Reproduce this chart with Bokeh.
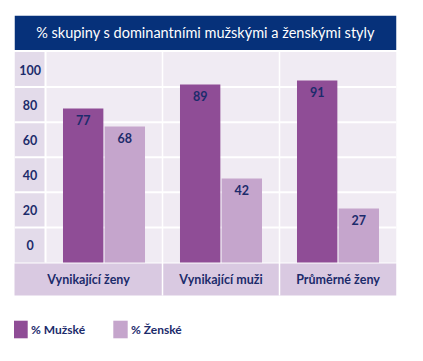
import numpy as np
from bokeh.plotting import figure
from bokeh.models import ColumnDataSource, Range1d, Legend, LegendItem
from bokeh.core.properties import value
from bokeh.embed import file_html
from bokeh.resources import INLINE

# ---- data ----
title_text = "% skupiny s dominantními mužskými a ženskými styly"
categories = ["Vynikající ženy", "Vynikající muži", "Průměrné ženy"]
muzske = [77, 89, 91]
zenske = [68, 42, 27]
y_tick_labels = ["0", "20", "40", "60", "80", "100"]
series_names = ["% Mužské", "% Ženské"]

# ---- style ----
NAVY = "#06317a"
TEXT = "#1c2b6b"
DARK = "#8f4d96"
LIGHT = "#c5a5cc"
PLOT_BG = "#f0ebf3"
COL_BG = "#e3dbea"
BAND_BG = "#d9c9e1"
FONT = "Lato"

# layout in data units
X_LEFT, X_RIGHT = -0.765, 2.5
PANEL_LEFT = -0.5
Y_TOP, Y_BOTTOM = 123.5, -41.5
PLOT_TOP = 105.25
TITLE_BOTTOM = 106.25
BAND_TOP, BAND_BOTTOM = -0.5, -16.5
n_rows = len(y_tick_labels)
row_h = PLOT_TOP / n_rows
bar_w = 0.345
bar_off = 0.178

p = figure(width=415, height=353, output_backend="svg", toolbar_location=None,
           x_range=Range1d(X_LEFT, X_RIGHT), y_range=Range1d(Y_BOTTOM, Y_TOP),
           x_axis_location=None, y_axis_location=None,
           min_border_left=14, min_border_right=19, min_border_top=15, min_border_bottom=8)
p.grid.visible = False
p.outline_line_color = None
p.background_fill_color = "white"
p.border_fill_color = "white"

# title band
p.quad(left=[X_LEFT], right=[X_RIGHT], bottom=[TITLE_BOTTOM], top=[Y_TOP],
       fill_color=NAVY, line_color=None)
p.text(x=[(X_LEFT + X_RIGHT) / 2], y=[(TITLE_BOTTOM + Y_TOP) / 2], text=[title_text],
       text_align="center", text_baseline="middle", text_color="white",
       text_font=value(FONT), text_font_size="14.5px")

# backgrounds
p.quad(left=[X_LEFT], right=[PANEL_LEFT], bottom=[0], top=[PLOT_TOP],
       fill_color=COL_BG, line_color=None)
p.quad(left=[PANEL_LEFT], right=[X_RIGHT], bottom=[0], top=[PLOT_TOP],
       fill_color=PLOT_BG, line_color=None)
p.quad(left=[X_LEFT - 0.01], right=[X_RIGHT], bottom=[BAND_BOTTOM], top=[BAND_TOP],
       fill_color=BAND_BG, line_color=None)

# white grid lines
row_bounds = [row_h * k for k in range(1, n_rows)]
p.segment(x0=[X_LEFT] * len(row_bounds), x1=[X_RIGHT] * len(row_bounds),
          y0=row_bounds, y1=row_bounds, line_color="white", line_width=2)
p.segment(x0=[PANEL_LEFT], x1=[PANEL_LEFT], y0=[0], y1=[PLOT_TOP],
          line_color="white", line_width=2)
dividers = [i + 0.5 for i in range(len(categories) - 1)]
p.segment(x0=dividers, x1=dividers, y0=[BAND_BOTTOM] * len(dividers),
          y1=[PLOT_TOP] * len(dividers), line_color="white", line_width=1.5)

# bars
idx = np.arange(len(categories))
src = ColumnDataSource(dict(xm=idx - bar_off, xz=idx + bar_off, m=muzske, z=zenske,
                            ml=[str(v) for v in muzske], zl=[str(v) for v in zenske]))
r1 = p.vbar(x="xm", top="m", width=bar_w, bottom=0, source=src,
            fill_color=DARK, line_color=None)
r2 = p.vbar(x="xz", top="z", width=bar_w, bottom=0, source=src,
            fill_color=LIGHT, line_color=None)
for xf, yf, lf in (("xm", "m", "ml"), ("xz", "z", "zl")):
    p.text(x=xf, y=yf, text=lf, source=src, y_offset=6,
           text_align="center", text_baseline="top", text_color=TEXT,
           text_font=value(FONT), text_font_style="bold", text_font_size="12.5px")

# y tick labels (row centres)
p.text(x=[(X_LEFT + PANEL_LEFT) / 2] * n_rows,
       y=[row_h * (k + 0.5) for k in range(n_rows)], text=y_tick_labels,
       text_align="center", text_baseline="middle", text_color=TEXT,
       text_font=value(FONT), text_font_style="bold", text_font_size="12.5px")

# category labels (the first band cell also spans the label column)
cell_left = [X_LEFT] + [i - 0.5 for i in idx[1:]]
cell_right = [i + 0.5 for i in idx]
p.text(x=[(a + b) / 2 for a, b in zip(cell_left, cell_right)],
       y=[(BAND_TOP + BAND_BOTTOM) / 2] * len(categories), text=categories,
       text_align="center", text_baseline="middle", text_color=TEXT,
       text_font=value(FONT), text_font_style="bold", text_font_size="12.5px")

# legend
legend = Legend(items=[LegendItem(label=series_names[0], renderers=[r1]),
                       LegendItem(label=series_names[1], renderers=[r2])],
                orientation="horizontal", location=(-3, 5),
                glyph_width=18, glyph_height=22, label_height=22, label_standoff=2,
                spacing=26, padding=0, margin=0,
                border_line_color=None, background_fill_alpha=0,
                label_text_color=TEXT, label_text_font=FONT,
                label_text_font_style="bold", label_text_font_size="12px")
p.add_layout(legend)

open("out.html", "w").write(file_html(p, INLINE))
